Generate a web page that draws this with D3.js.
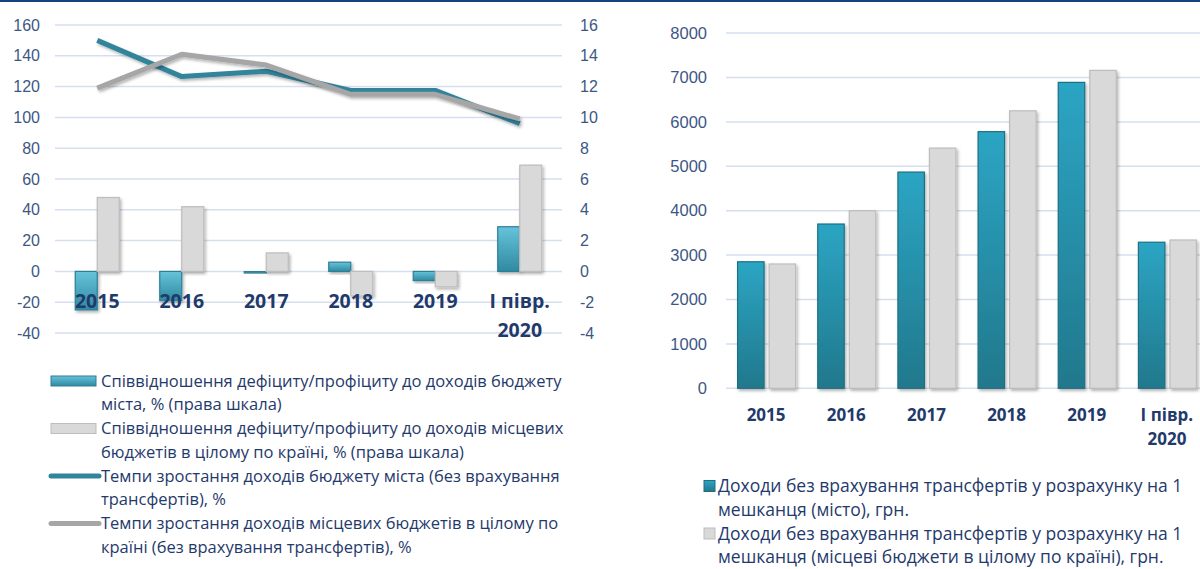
<!DOCTYPE html>
<html>
<head>
<meta charset="utf-8">
<script src="https://cdn.jsdelivr.net/npm/d3@7"></script>
<style>
  body { margin: 0; background: #fff; }
  svg { display: block; font-family: "Open Sans", "Noto Sans", sans-serif; }
</style>
</head>
<body>
<div id="chart"></div>
<script>
// categories shared by both charts
const categories = ["2015", "2016", "2017", "2018", "2019", "I півр.\n2020"];

// left chart: deficit/surplus ratio (right scale, %) and growth rates (left scale, %)
const cityDeficit = [-2.5, -1.9, -0.1, 0.6, -0.6, 2.9];
const countryDeficit = [4.8, 4.2, 1.2, -1.6, -1.0, 6.9];
const cityGrowth = [150, 126.5, 130, 117.5, 117.5, 96];
const countryGrowth = [119, 141, 134, 115, 115, 99];
const leftTicks = [-40, -20, 0, 20, 40, 60, 80, 100, 120, 140, 160];
const rightTicks = [-4, -2, 0, 2, 4, 6, 8, 10, 12, 14, 16];

// right chart: income per inhabitant, UAH
const cityIncome = [2850, 3700, 4870, 5780, 6890, 3290];
const countryIncome = [2800, 4000, 5410, 6250, 7160, 3340];
const incomeTicks = [0, 1000, 2000, 3000, 4000, 5000, 6000, 7000, 8000];

const leftLegend = [
  {type: "bar", key: "city", lines: ["Співвідношення дефіциту/профіциту до доходів бюджету", "міста, % (права шкала)"]},
  {type: "bar", key: "country", lines: ["Співвідношення дефіциту/профіциту до доходів місцевих", "бюджетів в цілому по країні, % (права шкала)"]},
  {type: "line", key: "city", lines: ["Темпи зростання доходів бюджету міста (без врахування", "трансфертів), %"]},
  {type: "line", key: "country", lines: ["Темпи зростання доходів місцевих бюджетів в цілому по", "країні (без врахування трансфертів), %"]}
];
const rightLegend = [
  {key: "city", lines: ["Доходи без врахування трансфертів у розрахунку на 1", "мешканця (місто), грн."]},
  {key: "country", lines: ["Доходи без врахування трансфертів у розрахунку на 1", "мешканця (місцеві бюджети в цілому по країні), грн."]}
];

const W = 1200, H = 569;
const axisColor = "#3d5784", labelColor = "#1f3a6b", gridColor = "#d5dff0";
const teal = "#31849b", gray = "#a6a6a6";
const plain = d => String(d);

const svg = d3.select("#chart").append("svg")
    .attr("width", W)
    .attr("height", H);

// defs: gradients + shadow
const defs = svg.append("defs");
const g1 = defs.append("linearGradient").attr("id", "tealLeft").attr("x1", 0).attr("y1", 0).attr("x2", 0).attr("y2", 1);
g1.append("stop").attr("offset", "0%").attr("stop-color", "#67c3da");
g1.append("stop").attr("offset", "100%").attr("stop-color", "#2f8aa1");
const g2 = defs.append("linearGradient").attr("id", "tealRight").attr("x1", 0).attr("y1", 0).attr("x2", 0).attr("y2", 1);
g2.append("stop").attr("offset", "0%").attr("stop-color", "#2ca5c4");
g2.append("stop").attr("offset", "100%").attr("stop-color", "#21788c");
const sh = defs.append("filter").attr("id", "shadow").attr("x", "-20%").attr("y", "-20%").attr("width", "150%").attr("height", "150%");
sh.append("feDropShadow").attr("dx", 1.5).attr("dy", 2).attr("stdDeviation", 1.5)
    .attr("flood-color", "#000").attr("flood-opacity", 0.3);

// top border
svg.append("rect").attr("x", 0).attr("y", 0).attr("width", W).attr("height", 2).attr("fill", "#17407e");

// ---------- left chart ----------
const x0 = d3.scaleBand().domain(categories).range([55, 562]);
const yL = d3.scaleLinear().domain([-40, 160]).range([333, 25]);
const yR = d3.scaleLinear().domain([-4, 16]).range([333, 25]);
const xSub = d3.scaleBand().domain(["city", "country"])
    .range([x0.bandwidth() / 2 - 22, x0.bandwidth() / 2 + 22]);

const left = svg.append("g");

left.append("g").selectAll("line")
    .data(leftTicks)
    .join("line")
      .attr("x1", 55).attr("x2", 562)
      .attr("y1", d => yL(d)).attr("y2", d => yL(d))
      .attr("stroke", gridColor).attr("stroke-width", 1.5);

const axL = left.append("g")
    .attr("transform", "translate(55,0)")
    .call(d3.axisLeft(yL).tickValues(leftTicks).tickFormat(plain).tickSize(0).tickPadding(15));
axL.select(".domain").remove();
axL.selectAll("text").attr("fill", axisColor).style("font-size", "16px");

const axR = left.append("g")
    .attr("transform", "translate(562,0)")
    .call(d3.axisRight(yR).tickValues(rightTicks).tickFormat(plain).tickSize(0).tickPadding(18));
axR.select(".domain").remove();
axR.selectAll("text").attr("fill", axisColor).style("font-size", "16px");

const leftBars = categories.map((c, i) => [
  {cat: c, key: "city", v: cityDeficit[i]},
  {cat: c, key: "country", v: countryDeficit[i]}
]).flat();

left.append("g").selectAll("rect")
    .data(leftBars)
    .join("rect")
      .attr("x", d => x0(d.cat) + xSub(d.key))
      .attr("width", xSub.bandwidth())
      .attr("y", d => yR(Math.max(0, d.v)))
      .attr("height", d => Math.abs(yR(d.v) - yR(0)))
      .attr("fill", d => d.key === "city" ? "url(#tealLeft)" : "#d9d9d9")
      .attr("stroke", d => d.key === "city" ? "#2e7f95" : "#bdbdbd")
      .attr("stroke-width", 1.2)
      .attr("filter", "url(#shadow)");

const line = d3.line()
    .x((d, i) => x0(categories[i]) + x0.bandwidth() / 2)
    .y(d => yL(d));

left.append("path").datum(cityGrowth)
    .attr("d", line).attr("fill", "none")
    .attr("stroke", teal).attr("stroke-width", 5)
    .attr("stroke-linejoin", "round").attr("filter", "url(#shadow)");
left.append("path").datum(countryGrowth)
    .attr("d", line).attr("fill", "none")
    .attr("stroke", gray).attr("stroke-width", 5)
    .attr("stroke-linejoin", "round").attr("filter", "url(#shadow)");

// category labels (drawn over the bars, like the original)
left.append("g").selectAll("text")
    .data(categories)
    .join("text")
      .attr("x", d => x0(d) + x0.bandwidth() / 2)
      .attr("y", 301)
      .attr("text-anchor", "middle")
      .attr("fill", labelColor)
      .style("font-size", "19.5px").style("font-weight", "bold")
      .each(function(d) {
        d.split("\n").forEach((t, j) => {
          d3.select(this).append("tspan")
            .attr("x", x0(d) + x0.bandwidth() / 2)
            .attr("dy", j === 0 ? "0.35em" : 29)
            .text(t);
        });
      });

// left legend
const lg = left.append("g");
leftLegend.forEach((item, i) => {
  const y0 = 381 + i * 47.5;
  if (item.type === "bar") {
    lg.append("rect").attr("x", 51).attr("y", y0 - 5).attr("width", 45).attr("height", 10)
      .attr("fill", item.key === "city" ? "url(#tealLeft)" : "#d9d9d9")
      .attr("stroke", item.key === "city" ? "#2e7f95" : "#bdbdbd");
  } else {
    lg.append("line").attr("x1", 51).attr("x2", 99).attr("y1", y0).attr("y2", y0)
      .attr("stroke", item.key === "city" ? teal : gray).attr("stroke-width", 5)
      .attr("stroke-linecap", "round");
  }
  item.lines.forEach((t, j) => {
    lg.append("text").attr("x", 101).attr("y", y0 + j * 23.5).attr("dy", "0.35em")
      .attr("fill", labelColor).style("font-size", "16.5px").text(t);
  });
});

// ---------- right chart ----------
const xB = d3.scaleBand().domain(categories).range([726, 1207]);
const yB = d3.scaleLinear().domain([0, 8000]).range([388.3, 33.1]);
const xBSub = d3.scaleBand().domain(["city", "country"])
    .range([xB.bandwidth() / 2 - 28.5, xB.bandwidth() / 2 + 29.5]).paddingInner(0.16);

const right = svg.append("g");

right.append("g").selectAll("line")
    .data(incomeTicks)
    .join("line")
      .attr("x1", 726).attr("x2", W)
      .attr("y1", d => yB(d)).attr("y2", d => yB(d))
      .attr("stroke", gridColor).attr("stroke-width", 1.5);

const axB = right.append("g")
    .attr("transform", "translate(726,0)")
    .call(d3.axisLeft(yB).tickValues(incomeTicks).tickFormat(plain).tickSize(0).tickPadding(19));
axB.select(".domain").remove();
axB.selectAll("text").attr("fill", axisColor).style("font-size", "16.5px");

const rightBars = categories.map((c, i) => [
  {cat: c, key: "city", v: cityIncome[i]},
  {cat: c, key: "country", v: countryIncome[i]}
]).flat();

right.append("g").selectAll("rect")
    .data(rightBars)
    .join("rect")
      .attr("x", d => xB(d.cat) + xBSub(d.key))
      .attr("width", xBSub.bandwidth())
      .attr("y", d => yB(d.v))
      .attr("height", d => yB(0) - yB(d.v))
      .attr("fill", d => d.key === "city" ? "url(#tealRight)" : "#d9d9d9")
      .attr("stroke", d => d.key === "city" ? "#1f6f82" : "#bdbdbd")
      .attr("stroke-width", 1.2)
      .attr("filter", "url(#shadow)");

right.append("g").selectAll("text")
    .data(categories)
    .join("text")
      .attr("x", d => xB(d) + xB.bandwidth() / 2)
      .attr("y", 415)
      .attr("text-anchor", "middle")
      .attr("fill", labelColor)
      .style("font-size", "17px").style("font-weight", "bold")
      .each(function(d) {
        d.split("\n").forEach((t, j) => {
          d3.select(this).append("tspan")
            .attr("x", xB(d) + xB.bandwidth() / 2)
            .attr("dy", j === 0 ? "0.35em" : 24)
            .text(t);
        });
      });

const rg = right.append("g");
rightLegend.forEach((item, i) => {
  const y0 = 486 + i * 47.5;
  rg.append("rect").attr("x", 704).attr("y", y0 - 5.5).attr("width", 11).attr("height", 11)
    .attr("fill", item.key === "city" ? "url(#tealRight)" : "#d9d9d9")
    .attr("stroke", item.key === "city" ? "#1f6f82" : "#bdbdbd");
  item.lines.forEach((t, j) => {
    rg.append("text").attr("x", 718).attr("y", y0 + j * 23.5).attr("dy", "0.35em")
      .attr("fill", labelColor).style("font-size", "17.5px").text(t);
  });
});
</script>
</body>
</html>
